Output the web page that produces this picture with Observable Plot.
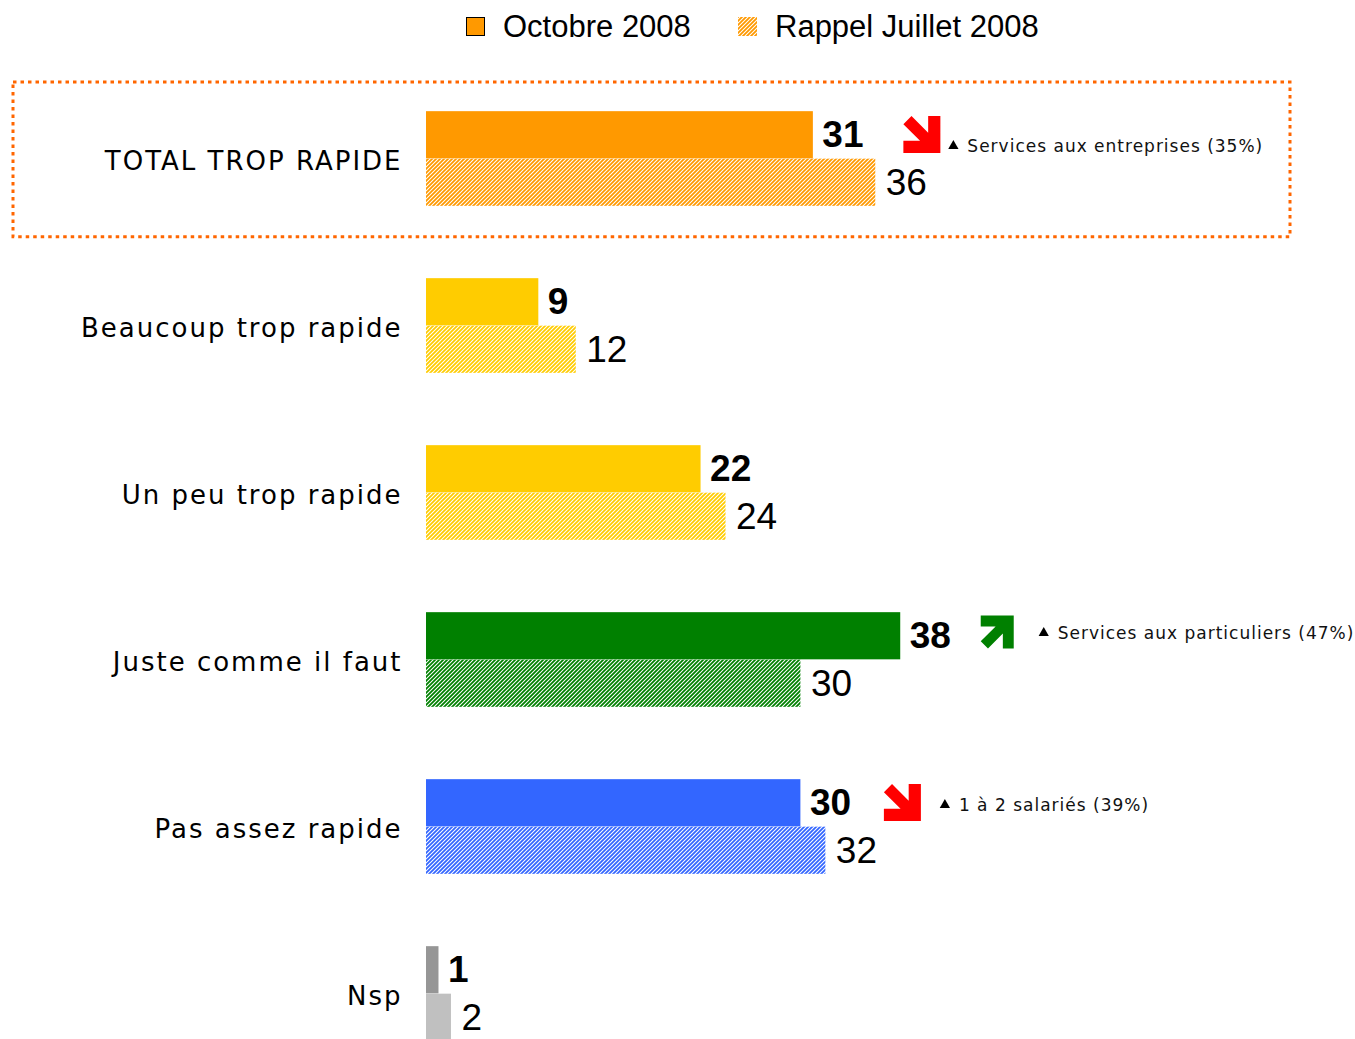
<!DOCTYPE html>
<html>
<head>
<meta charset="utf-8">
<script src="https://cdn.jsdelivr.net/npm/d3@7"></script>
<script src="https://cdn.jsdelivr.net/npm/@observablehq/plot@0.6"></script>
<style>
html, body { margin: 0; padding: 0; background: #fff; overflow: hidden; width: 1355px; height: 1039px; }
#legend { position: relative; height: 55px; font-family: "Liberation Sans", Arial, sans-serif; font-size: 31px; color: #000; }
#legend .item { position: absolute; top: 0; height: 53px; display: flex; align-items: center; white-space: nowrap; }
#legend .sw { width: 19px; height: 19px; box-sizing: border-box; margin-right: 18px; }
#chart { position: relative; }
#chart g[font-size="26"] text { letter-spacing: 2px; }
#chart g[font-size="17"] text { letter-spacing: 1px; }
</style>
</head>
<body>
<svg id="defs" width="0" height="0" style="position:absolute;left:0;top:0"><defs></defs></svg>
<div id="legend"></div>
<div id="chart"></div>
<script>
// ---- data ----
const categories = ["TOTAL TROP RAPIDE", "Beaucoup trop rapide", "Un peu trop rapide", "Juste comme il faut", "Pas assez rapide", "Nsp"];
const october = [31, 9, 22, 38, 30, 1];
const july = [36, 12, 24, 30, 32, 2];
const seriesNames = ["Octobre 2008", "Rappel Juillet 2008"];
const noteCategories = ["TOTAL TROP RAPIDE", "Juste comme il faut", "Pas assez rapide"];
const noteTrends = ["down", "up", "down"];
const noteTexts = ["Services aux entreprises (35%)", "Services aux particuliers (47%)", "1 à 2 salariés (39%)"];

// ---- styles ----
const solidColors = ["#FF9900", "#FFCC00", "#FFCC00", "#008000", "#3366FF", "#969696"];
const hatchColors = ["#FF9900", "#FFCC00", "#FFCC00", "#008000", "#3366FF", null];
const nspJulyColor = "#C0C0C0";
const trendColors = {down: "#FF0000", up: "#008000"};

// hatch patterns
const defs = d3.select("#defs defs");
hatchColors.forEach((c, i) => {
  if (!c) return;
  const p = defs.append("pattern").attr("id", "hatch" + i)
    .attr("width", 4).attr("height", 4).attr("patternUnits", "userSpaceOnUse");
  p.append("rect").attr("width", 4).attr("height", 4).attr("fill", "#fff");
  p.append("path").attr("d", "M-1,1 L1,-1 M0,4 L4,0 M3,5 L5,3")
    .attr("stroke", c).attr("stroke-width", 1.8).attr("fill", "none");
});

// legend
const legend = d3.select("#legend");
const it1 = legend.append("div").attr("class", "item").style("left", "466px");
it1.append("div").attr("class", "sw").style("background", solidColors[0]).style("border", "1.5px solid #000");
it1.append("span").text(seriesNames[0]);
const it2 = legend.append("div").attr("class", "item").style("left", "738px");
it2.append("svg").attr("class", "sw").attr("width", 19).attr("height", 19)
  .append("rect").attr("width", 19).attr("height", 19).attr("fill", "url(#hatch0)");
it2.append("span").text(seriesNames[1]);

// rows
const rows = categories.map((c, i) => ({
  category: c, oct: october[i], jul: july[i],
  octFill: solidColors[i],
  julFill: hatchColors[i] ? `url(#hatch${i})` : nspJulyColor
}));
const octOf = c => october[categories.indexOf(c)];
const notes = noteCategories.map((c, i) => ({category: c, trend: noteTrends[i], note: noteTexts[i]}));

// custom arrow symbol (box [-1,1]², tip at corner)
function arrowSymbol(dir) {
  const sy = dir === "up" ? -1 : 1;
  const t = 0.66, w = 0.62, L = 2, s = Math.SQRT2, se = -1.78;
  const pts = [
    [0, 0], [-L, 0], [-L, -t], [-t - w / s, -t],
    [se - w / (2 * s), se + w / (2 * s)], [se + w / (2 * s), se - w / (2 * s)],
    [-t, -t - w / s], [-t, -L], [0, -L]
  ].map(([x, y]) => [x + 1, (y + 1) * sy]);
  return {
    draw(ctx, size) {
      const r = Math.sqrt(size / Math.PI);
      pts.forEach(([x, y], k) => k ? ctx.lineTo(x * r, y * r) : ctx.moveTo(x * r, y * r));
      ctx.closePath();
    }
  };
}

// per-note layout offsets (px)
const noteLayout = [
  {arrow: [108.5, -24.5, 18.5], tri: [140, -13], text: [154, -12]},
  {arrow: [96.5, -28, 16.5], tri: [143, -27], text: [157, -26]},
  {arrow: [101.5, -24.5, 18.5], tri: [144, -22], text: [158, -21]}
];

const bw = (1023 - 19) / categories.length;
const half = bw / 2;
const barH = 47.5;

const noteMarks = notes.flatMap((n, i) => {
  const L = noteLayout[i];
  return [
    Plot.dot([n], {x: d => octOf(d.category), y: "category", dx: L.arrow[0], dy: L.arrow[1], r: L.arrow[2],
      symbol: arrowSymbol(n.trend), fill: trendColors[n.trend], stroke: "none"}),
    Plot.dot([n], {x: d => octOf(d.category), y: "category", dx: L.tri[0], dy: L.tri[1], r: 3.8,
      symbol: "triangle", fill: "#000", stroke: "none"}),
    Plot.text([n], {x: d => octOf(d.category), y: "category", text: "note", dx: L.text[0], dy: L.text[1],
      textAnchor: "start", fontSize: 17, fontFamily: '"DejaVu Sans", Verdana, sans-serif', fill: "#111"})
  ];
});

const chart = Plot.plot({
  width: 1355, height: 1030,
  marginLeft: 426, marginRight: 5.5, marginTop: 19, marginBottom: 7,
  style: {fontFamily: '"DejaVu Sans", Verdana, sans-serif', fontSize: "26px", color: "#000", background: "transparent", overflow: "visible"},
  x: {domain: [0, 74], axis: null},
  y: {domain: categories, padding: 0, axis: null},
  color: {type: "identity"},
  marks: [
    Plot.cell([categories[0]], {y: d => d, fill: "none", stroke: "#FF6600", strokeWidth: 3, strokeDasharray: "3.5,4",
      insetLeft: -413, insetRight: 59.5, insetTop: 7, insetBottom: 5.3}),
    Plot.text(rows, {y: "category", text: "category", frameAnchor: "left", dx: -24, dy: 3,
      textAnchor: "end", fontSize: 26, fontFamily: '"DejaVu Sans", Verdana, sans-serif', fill: "#000"}),
    Plot.barX(rows, {y: "category", x: "jul", fill: "julFill", insetTop: half, insetBottom: half - barH}),
    Plot.barX(rows, {y: "category", x: "oct", fill: "octFill", insetTop: half - barH, insetBottom: half}),
    Plot.text(rows, {y: "category", x: "oct", text: d => String(d.oct), dx: 9, dy: -barH / 2,
      textAnchor: "start", fontSize: 37, fontWeight: "bold", fontFamily: '"Liberation Sans", Arial, sans-serif', fill: "#000"}),
    Plot.text(rows, {y: "category", x: "jul", text: d => String(d.jul), dx: 10, dy: barH / 2,
      textAnchor: "start", fontSize: 37, fontFamily: '"Liberation Sans", Arial, sans-serif', fill: "#000"}),
    ...noteMarks
  ]
});
document.getElementById("chart").appendChild(chart);
</script>
</body>
</html>
